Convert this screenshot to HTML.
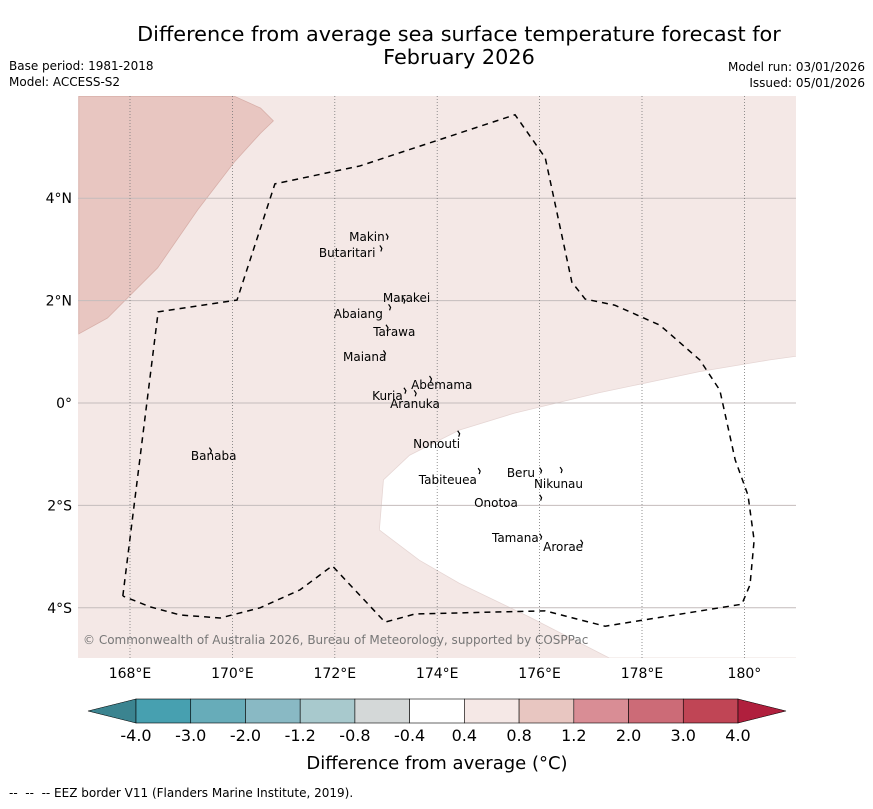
<!DOCTYPE html>
<html><head><meta charset="utf-8"><style>
body{margin:0;background:#fff;font-family:"Liberation Sans","DejaVu Sans",sans-serif}
svg text{font-family:"DejaVu Sans","Liberation Sans",sans-serif}
</style></head><body>
<svg id="c" width="873" height="804" xmlns="http://www.w3.org/2000/svg">
<text x="459" y="41" font-size="20.8" text-anchor="middle">Difference from average sea surface temperature forecast for</text>
<text x="459" y="64" font-size="20.8" text-anchor="middle">February 2026</text>
<text x="9" y="70" font-size="12">Base period: 1981-2018</text>
<text x="9" y="86" font-size="12">Model: ACCESS-S2</text>
<text x="865" y="71" font-size="12" text-anchor="end">Model run: 03/01/2026</text>
<text x="865" y="87" font-size="12" text-anchor="end">Issued: 05/01/2026</text>
<defs><clipPath id="mc"><rect x="78" y="96" width="718" height="562"/></clipPath></defs>
<g id="map" clip-path="url(#mc)"></g>
<text x="83" y="644" font-size="12" fill="#777">© Commonwealth of Australia 2026, Bureau of Meteorology, supported by COSPPac</text>
<g id="axes"></g>
<g id="cbar"></g>
<text x="437" y="769" font-size="18" text-anchor="middle">Difference from average (°C)</text>
<text x="9" y="797" font-size="12" xml:space="preserve">--  --  -- EEZ border V11 (Flanders Marine Institute, 2019).</text>
</svg>
<script>
const lonTicks=[168,170,172,174,176,178,180];
const lonLabels=["168°E","170°E","172°E","174°E","176°E","178°E","180°"];
const latTicks=[4,2,0,-2,-4];
const latLabels=["4°N","2°N","0°","2°S","4°S"];
const levels=["-4.0","-3.0","-2.0","-1.2","-0.8","-0.4","0.4","0.8","1.2","2.0","3.0","4.0"];
const levelColors=["#47a0b0","#67acb9","#89b9c4","#a8c9cd","#d4d8d8","#ffffff","#f5e8e6","#e8c6c1","#d98d95","#cc6b77","#c04555"];
const underColor="#3b8490", overColor="#b01f3d";
const eezLon=[167.86,168.55,170.09,170.83,172.49,175.52,176.11,176.63,176.89,177.47,178.35,179.13,179.52,179.82,180.07,180.19,180.11,179.95,177.28,176.11,173.57,172.98,171.95,171.32,170.54,169.76,168.98,168.39,167.86];
const eezLat=[-3.77,1.78,2.01,4.28,4.63,5.63,4.79,2.36,2.03,1.91,1.52,0.84,0.25,-1.11,-1.80,-2.68,-3.55,-3.93,-4.36,-4.06,-4.12,-4.28,-3.18,-3.65,-4.00,-4.20,-4.14,-3.98,-3.77];
const warmLon=[167,170.04,170.55,170.80,170.55,170.04,169.32,168.54,167.56,167];
const warmLat=[5.99,5.99,5.76,5.51,5.27,4.71,3.77,2.64,1.66,1.35];
const coolLon=[181.2,180.48,179.11,177.16,175.50,174.43,173.46,172.95,172.87,173.65,174.43,175.80,177.36,181.2];
const coolLat=[0.94,0.84,0.61,0.20,-0.20,-0.53,-1.02,-1.50,-2.48,-3.07,-3.52,-4.18,-4.98,-4.98];
const islandNames=["Makin","Butaritari","Marakei","Abaiang","Tarawa","Maiana","Abemama","Kuria","Aranuka","Nonouti","Banaba","Beru","Nikunau","Tabiteuea","Onotoa","Tamana","Arorae"];
const islandLon=[173.0,172.88,173.33,173.05,173.0,172.95,173.85,173.35,173.55,174.4,169.55,176.0,176.4,174.8,176.0,176.0,176.8];
const islandLat=[3.23,3.0,1.98,1.85,1.45,0.95,0.45,0.22,0.17,-0.62,-0.95,-1.34,-1.33,-1.35,-1.87,-2.63,-2.75];
const labelLon=[172.28,171.69,172.94,171.98,172.75,172.16,173.49,172.73,173.08,173.53,169.19,175.36,175.89,173.64,174.72,175.07,176.07];
const labelLat=[3.16,2.85,1.97,1.66,1.31,0.82,0.27,0.06,-0.10,-0.88,-1.11,-1.45,-1.66,-1.58,-2.03,-2.71,-2.89];
const NS="http://www.w3.org/2000/svg";
const X=lon=>130+(lon-168)*51.2, Y=lat=>403-lat*51.2;
function mk(t,a,p){const e=document.createElementNS(NS,t);for(const k in a)e.setAttribute(k,a[k]);p.appendChild(e);return e;}
const map=document.getElementById('map');
mk('rect',{x:78,y:96,width:718,height:562,fill:'#f4e8e6'},map);
const pts=(lo,la)=>lo.map((v,i)=>X(v)+','+Y(la[i])).join(' ');
let w=mk('polygon',{points:pts(warmLon,warmLat),fill:'#e8c6c1',stroke:'#d8b0aa','stroke-width':0.8},map);


let cz=mk('polygon',{points:pts(coolLon,coolLat),fill:'#ffffff',stroke:'#e6d6d4','stroke-width':0.8},map);


latTicks.forEach((v,i)=>{
 let l=mk('line',{x1:78,x2:796,y1:Y(v),y2:Y(v),stroke:'#c4bcbc','stroke-width':1},map);
 
 
 let t=mk('text',{x:72,y:Y(v)+5,'font-size':14,'text-anchor':'end'},document.getElementById('axes'));
 t.textContent=latLabels[i];
 
 
});
lonTicks.forEach((v,i)=>{
 let l=mk('line',{x1:X(v),x2:X(v),y1:96,y2:658,stroke:'#777','stroke-width':0.8,'stroke-dasharray':'1,2'},map);
 
 
 let t=mk('text',{x:X(v),y:678,'font-size':14,'text-anchor':'middle'},document.getElementById('axes'));
 t.textContent=lonLabels[i];
 
 
});
let ez=mk('polyline',{points:pts(eezLon,eezLat),fill:'none',stroke:'#000','stroke-width':1.5,'stroke-dasharray':'6,5'},map);


islandNames.forEach((n,i)=>{
 let d=mk('path',{d:`M${X(islandLon[i])},${Y(islandLat[i])-4} l2,3 l-1,3`,fill:'none',stroke:'#000','stroke-width':1.2},map);
 
 
 let t=mk('text',{x:X(labelLon[i]),y:Y(labelLat[i]),'font-size':12,'text-anchor':'start'},map);
 t.textContent=n;
 
 
});
const cb=document.getElementById('cbar');
const cx0=136,cw=(738-136)/levelColors.length,cy=699,ch=24;
let ua=mk('polygon',{points:`88,${cy+ch/2} ${cx0},${cy} ${cx0},${cy+ch}`,fill:underColor,stroke:'#000','stroke-width':0.6},cb);


levelColors.forEach((c,i)=>{
 let r=mk('rect',{x:cx0+i*cw,y:cy,width:cw,height:ch,fill:c,stroke:'#000','stroke-width':0.6},cb);
 
 
});
let oa=mk('polygon',{points:`738,${cy} 786,${cy+ch/2} 738,${cy+ch}`,fill:overColor,stroke:'#000','stroke-width':0.6},cb);


levels.forEach((v,i)=>{
 let t=mk('text',{x:cx0+i*cw,y:741,'font-size':16,'text-anchor':'middle'},cb);
 t.textContent=v;
 
 
});
</script>
</body></html>
